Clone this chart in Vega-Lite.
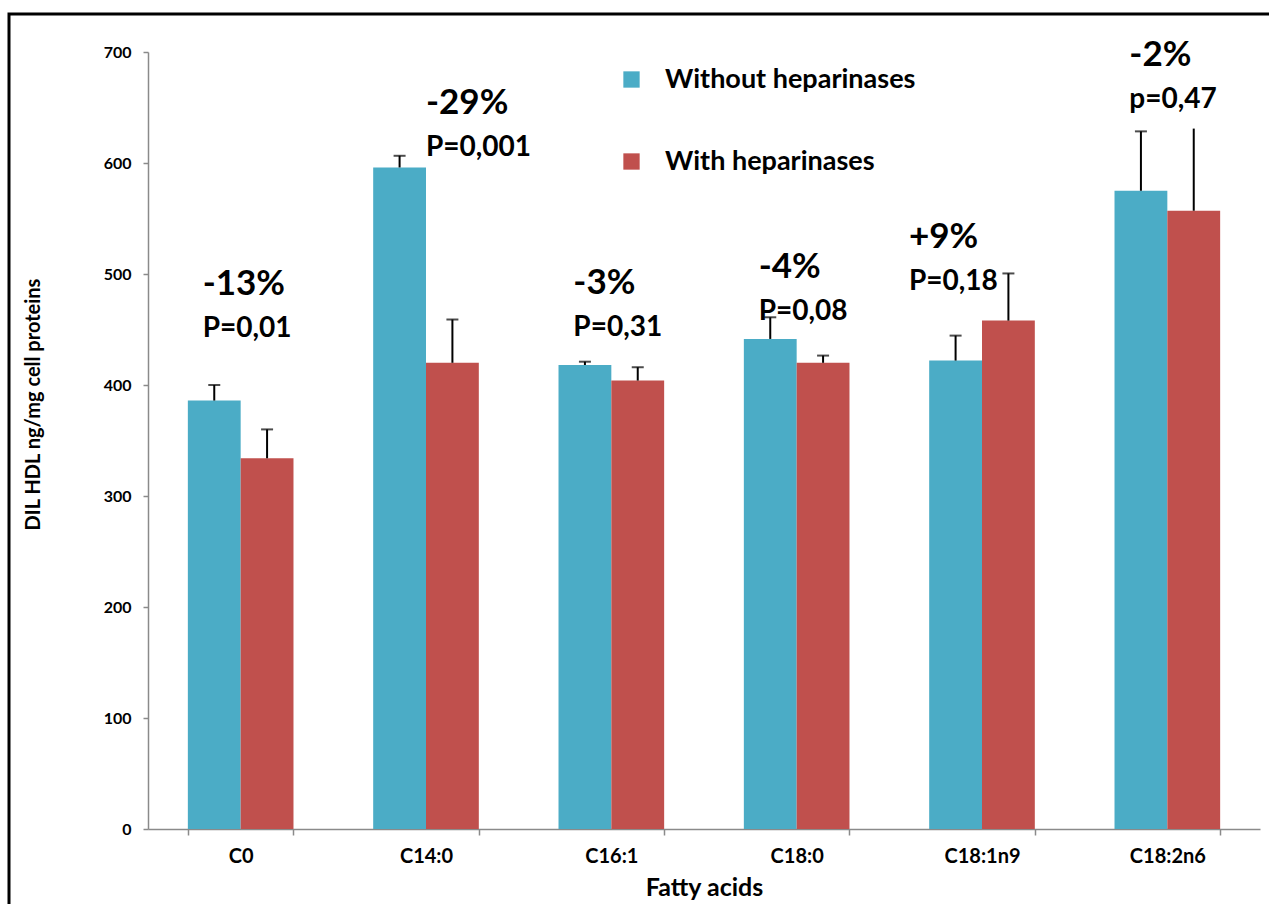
{
  "$schema": "https://vega.github.io/schema/vega-lite/v6.json",
  "width": 1262,
  "height": 892,
  "padding": {"left": 9, "top": 14, "right": 0, "bottom": 0},
  "background": "white",
  "datasets": {
    "uptake": [
      {"acid": "C0", "group": "Without heparinases", "mean": 386, "upper": 400},
      {"acid": "C0", "group": "With heparinases", "mean": 334, "upper": 360},
      {"acid": "C14:0", "group": "Without heparinases", "mean": 596, "upper": 606.5},
      {"acid": "C14:0", "group": "With heparinases", "mean": 420, "upper": 459},
      {"acid": "C16:1", "group": "Without heparinases", "mean": 418, "upper": 421},
      {"acid": "C16:1", "group": "With heparinases", "mean": 404, "upper": 416},
      {"acid": "C18:0", "group": "Without heparinases", "mean": 441.5, "upper": 461},
      {"acid": "C18:0", "group": "With heparinases", "mean": 420, "upper": 426.5},
      {"acid": "C18:1n9", "group": "Without heparinases", "mean": 422, "upper": 444.5},
      {"acid": "C18:1n9", "group": "With heparinases", "mean": 458, "upper": 500.5},
      {"acid": "C18:2n6", "group": "Without heparinases", "mean": 575, "upper": 628.5},
      {"acid": "C18:2n6", "group": "With heparinases", "mean": 557, "upper": 631}
    ],
    "notes": [
      {"acid": "C0", "change": "-13%", "p": "P=0,01", "at": 481, "side": "over"},
      {"acid": "C14:0", "change": "-29%", "p": "P=0,001", "at": 644, "side": "right"},
      {"acid": "C16:1", "change": "-3%", "p": "P=0,31", "at": 482, "side": "over"},
      {"acid": "C18:0", "change": "-4%", "p": "P=0,08", "at": 496, "side": "over"},
      {"acid": "C18:1n9", "change": "+9%", "p": "P=0,18", "at": 523, "side": "left"},
      {"acid": "C18:2n6", "change": "-2%", "p": "p=0,47", "at": 687, "side": "over"}
    ]
  },
  "layer": [
    {
      "data": {"name": "uptake"},
      "mark": {"type": "bar"},
      "encoding": {
        "x": {
          "field": "acid",
          "type": "nominal",
          "sort": ["C0", "C14:0", "C16:1", "C18:0", "C18:1n9", "C18:2n6"],
          "scale": {"range": [139, 1251], "paddingInner": 0.43, "paddingOuter": 0.215},
          "title": "Fatty acids",
          "axis": {
            "offset": -77,
            "labelAngle": 0,
            "tickBand": "extent",
            "tickSize": 6,
            "labelPadding": 11,
            "labelFontSize": 20,
            "titleFontSize": 25,
            "titlePadding": 9
          }
        },
        "xOffset": {
          "field": "group",
          "type": "nominal",
          "scale": {"domain": ["Without heparinases", "With heparinases"]}
        },
        "y": {
          "field": "mean",
          "type": "quantitative",
          "scale": {"domain": [0, 700], "range": [815, 38], "nice": false},
          "title": "DIL HDL ng/mg cell proteins",
          "axis": {
            "offset": -139,
            "values": [0, 100, 200, 300, 400, 500, 600, 700],
            "tickSize": 5,
            "labelPadding": 12,
            "labelFontSize": 16,
            "titleFontSize": 20,
            "titlePadding": 60,
            "titleY": 390
          }
        },
        "color": {
          "field": "group",
          "type": "nominal",
          "scale": {
            "domain": ["Without heparinases", "With heparinases"],
            "range": ["#4BACC6", "#C0504D"]
          },
          "legend": {
            "title": null,
            "orient": "none",
            "legendX": 609,
            "legendY": 52,
            "padding": 0,
            "symbolType": "square",
            "symbolSize": 266,
            "symbolStrokeWidth": 0,
            "symbolOpacity": 1,
            "labelFontSize": 27,
            "labelFontWeight": "bold",
            "labelColor": "black",
            "labelLimit": 0,
            "labelOffset": 20,
            "rowPadding": 54
          }
        }
      }
    },
    {
      "data": {"name": "uptake"},
      "mark": {"type": "rule", "color": "black", "strokeWidth": 2},
      "encoding": {
        "x": {"field": "acid", "type": "nominal", "sort": ["C0", "C14:0", "C16:1", "C18:0", "C18:1n9", "C18:2n6"]},
        "xOffset": {"field": "group", "type": "nominal"},
        "y": {"field": "mean", "type": "quantitative"},
        "y2": {"field": "upper"}
      }
    },
    {
      "data": {"name": "uptake"},
      "transform": [
        {"filter": "!(datum.acid === 'C18:2n6' && datum.group === 'With heparinases')"}
      ],
      "mark": {"type": "tick", "orient": "horizontal", "size": 12, "thickness": 2, "color": "black"},
      "encoding": {
        "x": {"field": "acid", "type": "nominal", "sort": ["C0", "C14:0", "C16:1", "C18:0", "C18:1n9", "C18:2n6"]},
        "xOffset": {"field": "group", "type": "nominal"},
        "y": {"field": "upper", "type": "quantitative"}
      }
    },
    {
      "data": {"name": "notes"},
      "mark": {
        "type": "text",
        "align": "left",
        "baseline": "alphabetic",
        "fontSize": 35,
        "fontWeight": "bold",
        "color": "black",
        "dx": {"expr": "datum.side === 'right' ? 0 : datum.side === 'left' ? -73 : -38"}
      },
      "encoding": {
        "x": {"field": "acid", "type": "nominal", "sort": ["C0", "C14:0", "C16:1", "C18:0", "C18:1n9", "C18:2n6"]},
        "y": {"field": "at", "type": "quantitative"},
        "text": {"field": "change"}
      }
    },
    {
      "data": {"name": "notes"},
      "mark": {
        "type": "text",
        "align": "left",
        "baseline": "alphabetic",
        "fontSize": 28,
        "fontWeight": "bold",
        "color": "black",
        "dy": 42,
        "dx": {"expr": "datum.side === 'right' ? 0 : datum.side === 'left' ? -73 : -38"}
      },
      "encoding": {
        "x": {"field": "acid", "type": "nominal", "sort": ["C0", "C14:0", "C16:1", "C18:0", "C18:1n9", "C18:2n6"]},
        "y": {"field": "at", "type": "quantitative"},
        "text": {"field": "p"}
      }
    }
  ],
  "config": {
    "font": "Lato",
    "view": {"stroke": "black", "strokeWidth": 3},
    "axis": {
      "grid": false,
      "domainColor": "#8a8a8a",
      "domainWidth": 1.5,
      "tickColor": "#8a8a8a",
      "tickWidth": 1.5,
      "labelFont": "Lato",
      "labelFontWeight": "bold",
      "labelColor": "black",
      "titleFont": "Lato",
      "titleFontWeight": "bold",
      "titleColor": "black"
    }
  }
}
